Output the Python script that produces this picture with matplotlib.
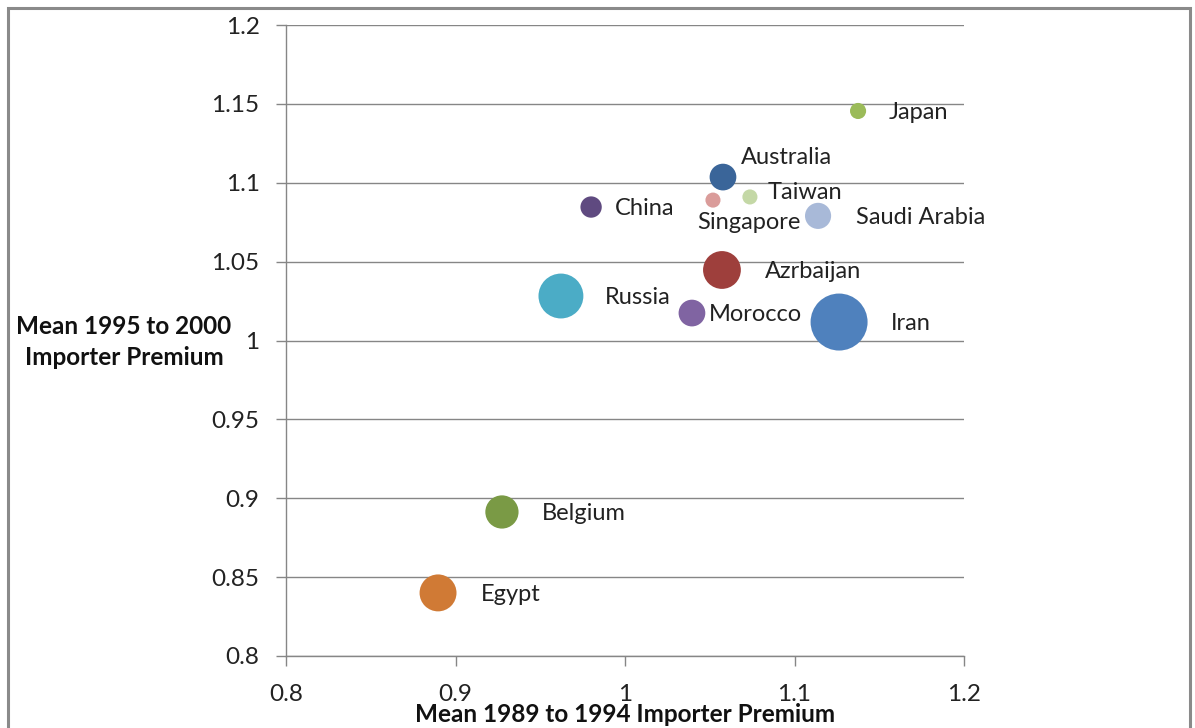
import matplotlib.pyplot as plt
from matplotlib.patches import Rectangle

plt.rcParams['font.family'] = ['Lato', 'DejaVu Sans']

# bubble chart data
countries = ['Japan', 'Australia', 'Taiwan', 'Singapore', 'Saudi Arabia', 'China',
             'Azrbaijan', 'Russia', 'Morocco', 'Iran', 'Belgium', 'Egypt']
premium_89_94 = [1.1375, 1.0578, 1.0737, 1.0519, 1.1139, 0.980,
                 1.0572, 0.9622, 1.0395, 1.1263, 0.9274, 0.8897]
premium_95_00 = [1.1455, 1.1036, 1.0910, 1.0890, 1.0790, 1.0846,
                 1.0447, 1.0282, 1.0174, 1.0117, 0.8913, 0.8400]
bubble_value = [8, 22, 7, 7, 21, 14, 44, 62, 22, 100, 34, 42]

colors = ['#9BBB59', '#3A6599', '#C4D8A6', '#DA9C9A', '#A8B9D8', '#5F4A80',
          '#9E3F3C', '#4BACC6', '#8064A2', '#4F81BD', '#7A9A45', '#D07A35']
# label offsets in points from bubble centre
offsets = [(22, -1), (13, 14), (13, 3), (-11, -16), (27, -1), (17, -1),
           (31, -1), (32, -1), (12, -1), (37, -1), (29, -1), (31, -1)]

fig = plt.figure(figsize=(11.95, 7.28), dpi=100)
ax = fig.add_axes([286 / 1195, 1 - 656 / 728, (964 - 286) / 1195, (656 - 25) / 728])

sizes = [v * 16.84 for v in bubble_value]
ax.scatter(premium_89_94, premium_95_00, s=sizes, c=colors, linewidths=0, zorder=3)

for name, x, y, off in zip(countries, premium_89_94, premium_95_00, offsets):
    ax.annotate(name, (x, y), xytext=off, textcoords='offset points',
                ha='left', va='center', fontsize=17, color='#222222', zorder=4)

ax.set_xlim(0.8, 1.2)
ax.set_ylim(0.8, 1.2)
ax.set_xticks([0.8, 0.9, 1.0, 1.1, 1.2])
ax.set_xticklabels(['0.8', '0.9', '1', '1.1', '1.2'])
ax.set_yticks([0.8, 0.85, 0.9, 0.95, 1.0, 1.05, 1.1, 1.15, 1.2])
ax.set_yticklabels(['0.8', '0.85', '0.9', '0.95', '1', '1.05', '1.1', '1.15', '1.2'])
ax.tick_params(axis='both', direction='out', length=7, width=1, color='#868686',
               labelsize=17.5, labelcolor='#222222')
ax.tick_params(axis='y', pad=12)
ax.tick_params(axis='x', pad=13)

ax.grid(axis='y', color='#868686', linewidth=1)
ax.set_axisbelow(True)
for side in ['top', 'right']:
    ax.spines[side].set_visible(False)
for side in ['left', 'bottom']:
    ax.spines[side].set_color('#868686')
    ax.spines[side].set_linewidth(1)

fig.text(625 / 1195, 1 - 714 / 728, 'Mean 1989 to 1994 Importer Premium',
         ha='center', va='center', fontsize=17.5, fontweight='bold', color='#111111')
fig.text(124 / 1195, 1 - 342 / 728, 'Mean 1995 to 2000\nImporter Premium',
         ha='center', va='center', fontsize=17.5, fontweight='bold', color='#111111',
         linespacing=1.4)

# outer chart frame
fig.patches.append(Rectangle((8 / 1195, -0.05), (1190 - 8) / 1195, 1.05 - 8 / 728,
                             transform=fig.transFigure, fill=False,
                             edgecolor='#8A8A8A', linewidth=2.2))

fig.savefig('out.png', dpi=100)
